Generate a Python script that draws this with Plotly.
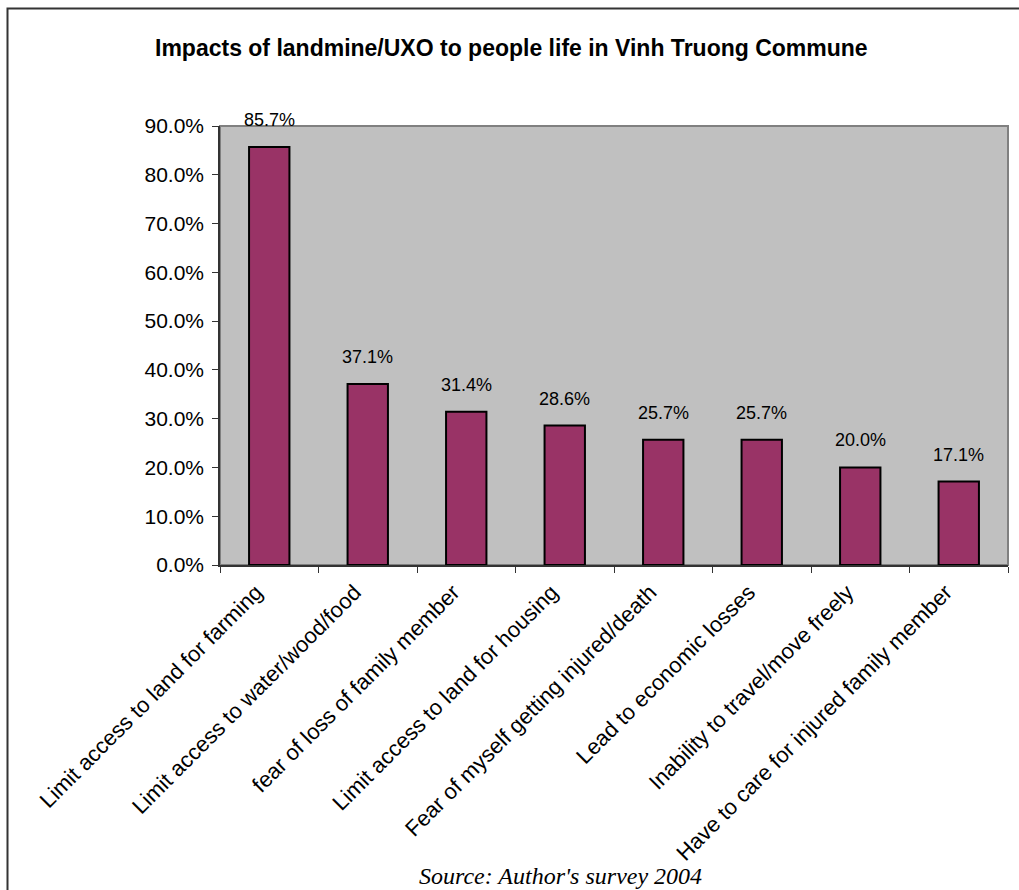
import plotly.graph_objects as go

categories = [
    "Limit access to land for farming",
    "Limit access to water/wood/food",
    "fear of loss of family member",
    "Limit access to land for housing",
    "Fear of myself getting injured/death",
    "Lead to economic losses",
    "Inability to travel/move freely",
    "Have to care for injured family member",
]
values = [85.7, 37.1, 31.4, 28.6, 25.7, 25.7, 20.0, 17.1]
value_labels = ["85.7%", "37.1%", "31.4%", "28.6%", "25.7%", "25.7%", "20.0%", "17.1%"]
y_ticks = [0, 10, 20, 30, 40, 50, 60, 70, 80, 90]
y_tick_labels = ["0.0%", "10.0%", "20.0%", "30.0%", "40.0%", "50.0%", "60.0%", "70.0%", "80.0%", "90.0%"]

W, H = 1019, 890
L, R, T, B = 220, 11, 126, 325
pw, ph = W - L - R, H - T - B

def px_to_paper_x(px):
    return (px - L) / pw

def px_to_paper_y(py):
    return (H - B - py) / ph

fig = go.Figure()
fig.add_trace(go.Bar(
    x=categories, y=values,
    marker=dict(color="#993366", line=dict(color="#000000", width=2)),
    width=0.41,
    hoverinfo="skip",
))

for c, v, t in zip(categories, values, value_labels):
    fig.add_annotation(x=c, y=v, text=t, showarrow=False, yshift=27,
                       font=dict(family="Liberation Sans, Arial", size=18, color="#000000"))

fig.add_annotation(xref="paper", yref="paper", x=px_to_paper_x(511), y=px_to_paper_y(48),
                   xanchor="center", yanchor="middle",
                   text="<b>Impacts of landmine/UXO to people life in Vinh Truong Commune</b>",
                   showarrow=False, font=dict(family="Liberation Sans, Arial", size=23, color="#000000"))

fig.add_annotation(xref="paper", yref="paper", x=px_to_paper_x(560), y=px_to_paper_y(876),
                   xanchor="center", yanchor="middle",
                   text="<i>Source: Author's survey 2004</i>",
                   showarrow=False, font=dict(family="Liberation Serif, Times New Roman", size=24, color="#000000"))

# outer frame
fig.add_shape(type="rect", xref="paper", yref="paper",
              x0=px_to_paper_x(7.5), x1=px_to_paper_x(1030),
              y0=px_to_paper_y(910), y1=px_to_paper_y(8.5),
              line=dict(color="#333333", width=2), fillcolor="rgba(0,0,0,0)", layer="above")
# plot area border
fig.add_shape(type="rect", xref="paper", yref="paper", x0=0, x1=1, y0=0, y1=1,
              line=dict(color="#808080", width=2), fillcolor="rgba(0,0,0,0)", layer="below")

fig.update_layout(
    width=W, height=H,
    margin=dict(l=L, r=R, t=T, b=B, pad=0),
    paper_bgcolor="#FFFFFF", plot_bgcolor="#C0C0C0",
    showlegend=False, bargap=0.59,
    font=dict(family="Liberation Sans, Arial", size=20, color="#000000"),
)
fig.update_xaxes(
    tickangle=-45, showgrid=False, ticks="outside", ticklen=6, tickcolor="#333333",
    tickson="boundaries", showline=True, linecolor="#333333", linewidth=1.5,
    automargin=False, ticklabelshift=-13, ticklabelstandoff=4,
    tickfont=dict(family="Liberation Sans, Arial", size=22, color="#000000"),
)
fig.update_yaxes(
    range=[0, 90], tickvals=y_ticks, ticktext=y_tick_labels, showgrid=False,
    ticks="outside", ticklen=6, tickcolor="#333333", showline=True,
    linecolor="#333333", linewidth=1.5, zeroline=False, automargin=False,
    ticklabelstandoff=4,
    tickfont=dict(family="Liberation Sans, Arial", size=21, color="#000000"),
)

fig.write_html("out.html")
